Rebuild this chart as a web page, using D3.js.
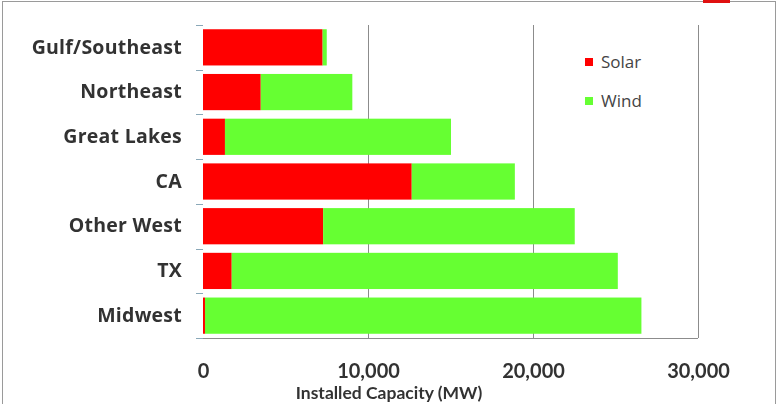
<!DOCTYPE html>
<html>
<head>
<meta charset="utf-8">
<script src="https://cdnjs.cloudflare.com/ajax/libs/d3/7.8.5/d3.min.js"></script>
<style>
  html, body { margin: 0; padding: 0; background: #fff; }
  svg { display: block; }
</style>
</head>
<body>
<svg id="chart" width="779" height="404" font-family="Lato, sans-serif"></svg>
<script>
// Installed capacity by region (MW)
const regions = ["Gulf/Southeast", "Northeast", "Great Lakes", "CA", "Other West", "TX", "Midwest"];
const solar = [7250, 3500, 1330, 12650, 7280, 1740, 120];
const wind  = [250, 5550, 13700, 6250, 15250, 23400, 26450];
const seriesNames = ["Solar", "Wind"];
const seriesColors = ["#ff0000", "#66ff33"];
const xTicks = [0, 10000, 20000, 30000];
const xTitle = "Installed Capacity (MW)";

const svg = d3.select("#chart");
const W = 779, H = 404;
const m = { left: 203, right: 81, top: 25, bottom: 66 };
const iw = W - m.left - m.right, ih = H - m.top - m.bottom;

const defs = svg.append("defs");
defs.append("filter").attr("id", "soft").append("feGaussianBlur").attr("stdDeviation", 0.4);
defs.append("filter").attr("id", "softText").append("feGaussianBlur").attr("stdDeviation", 0.35);

// frame
svg.append("rect").attr("x", 2.5).attr("y", 1.5).attr("width", 773).attr("height", 410)
  .attr("fill", "#fff").attr("stroke", "#9a9a9a").attr("stroke-width", 1);
svg.append("rect").attr("x", 703).attr("y", 0).attr("width", 27).attr("height", 3).attr("fill", "#e01010");

const g = svg.append("g").attr("transform", `translate(${m.left},${m.top})`);

const x = d3.scaleLinear().domain([0, 30000]).range([0, iw]);
const y = d3.scaleBand().domain(regions).range([0, ih]).paddingInner(0.19).paddingOuter(0.095);

// gridlines
g.append("g").selectAll("line").data(xTicks.slice(1)).join("line")
  .attr("x1", d => Math.round(x(d)) + 0.5).attr("x2", d => Math.round(x(d)) + 0.5)
  .attr("y1", 0).attr("y2", ih)
  .attr("stroke", "#8c8c8c").attr("stroke-width", 1);

// stacked bars
const rows = regions.map((r, i) => ({ region: r, Solar: solar[i], Wind: wind[i] }));
const stack = d3.stack().keys(seriesNames)(rows);
g.append("g").selectAll("g").data(stack).join("g")
  .attr("fill", (d, i) => seriesColors[i])
  .selectAll("rect").data(d => d).join("rect")
  .attr("x", d => x(d[0]))
  .attr("width", d => x(d[1]) - x(d[0]))
  .attr("y", d => y(d.data.region))
  .attr("height", y.bandwidth())
  .attr("filter", "url(#soft)");

// x axis line and ticks
g.append("line").attr("x1", 0).attr("x2", iw).attr("y1", ih + 0.5).attr("y2", ih + 0.5)
  .attr("stroke", "#8c8c8c");
const xAxis = d3.axisBottom(x).tickValues(xTicks).tickSize(0).tickPadding(26)
  .tickFormat(d3.format(","));
const xg = g.append("g").attr("transform", `translate(0,${ih})`).call(xAxis);
xg.select(".domain").remove();
xg.attr("font-family", "Lato, sans-serif");
xg.selectAll("text").attr("font-size", 20).attr("font-weight", 700).attr("fill", "#333")
  .attr("filter", "url(#softText)");

// y axis ticks (left)
const bounds = d3.range(regions.length + 1).map(i => i * ih / regions.length);
g.append("g").selectAll("line").data(bounds).join("line")
  .attr("x1", -7).attr("x2", 0).attr("y1", d => Math.round(d) + 0.5).attr("y2", d => Math.round(d) + 0.5)
  .attr("stroke", "#8aa8b8");

// category labels
const yAxis = d3.axisLeft(y).tickSize(0).tickPadding(21);
const yg = g.append("g").call(yAxis);
yg.select(".domain").remove();
yg.attr("font-family", "'Open Sans', sans-serif");
yg.selectAll("text").attr("font-size", 19.5).attr("font-weight", 700).attr("fill", "#333")
  .attr("letter-spacing", 0.25).attr("filter", "url(#softText)");

// axis title
svg.append("text").attr("x", 389).attr("y", 399).attr("text-anchor", "middle")
  .attr("font-size", 17.5).attr("font-weight", 700).attr("fill", "#333")
  .attr("filter", "url(#softText)").text(xTitle);

// legend
const leg = svg.append("g").attr("transform", "translate(585,58)")
  .attr("font-family", "'Open Sans', sans-serif");
seriesNames.forEach((s, i) => {
  const row = leg.append("g").attr("transform", `translate(0,${i * 39})`);
  row.append("rect").attr("width", 8).attr("height", 8).attr("fill", seriesColors[i]);
  row.append("text").attr("x", 16).attr("y", 10).attr("font-size", 17)
    .attr("fill", "#444").text(s);
});
</script>
</body>
</html>
